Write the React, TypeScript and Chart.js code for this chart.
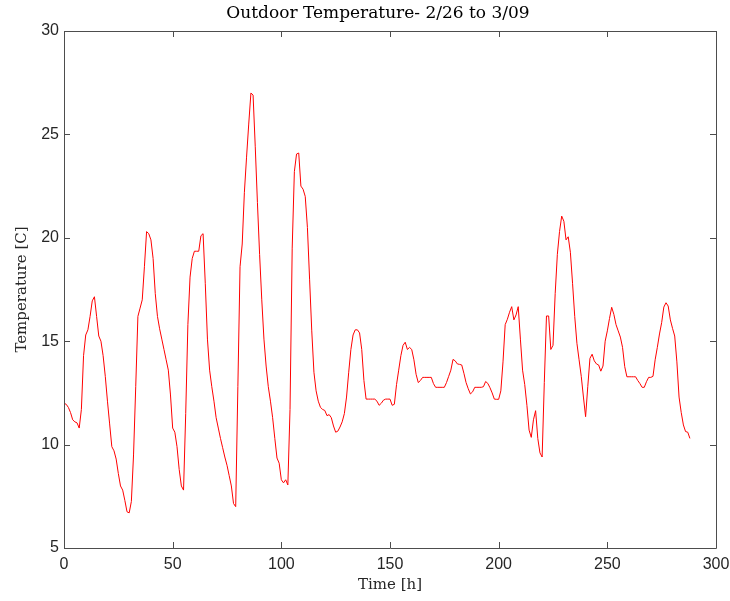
import React, { useEffect, useRef } from "react";
import { Chart, registerables } from "chart.js";

Chart.register(...registerables);

const TITLE = "Outdoor Temperature- 2/26 to 3/09";
const X_LABEL = "Time [h]";
const Y_LABEL = "Temperature [C]";

// hours 0..288
const temperature: number[] = [
  12.0, 11.95, 11.8, 11.55, 11.2, 11.1, 11.05, 10.8, 11.7, 14.3,
  15.3, 15.55, 16.2, 16.95, 17.15, 16.2, 15.25, 15.0, 14.3, 13.3,
  12.1, 11.0, 9.9, 9.7, 9.3, 8.6, 8.0, 7.8, 7.3, 6.75,
  6.7, 7.25, 9.5, 12.8, 16.2, 16.6, 17.0, 18.6, 20.3, 20.2,
  19.9, 19.0, 17.3, 16.2, 15.6, 15.1, 14.6, 14.1, 13.6, 12.4,
  10.8, 10.6, 9.9, 8.8, 8.0, 7.8, 11.5, 15.8, 18.1, 19.0,
  19.35, 19.35, 19.35, 20.1, 20.2, 17.8, 15.1, 13.6, 12.8, 12.1,
  11.3, 10.8, 10.3, 9.85, 9.4, 9.0, 8.5, 8.0, 7.15, 7.0,
  12.8, 18.6, 19.7, 22.2, 23.9, 25.5, 27.0, 26.9, 24.4, 21.7,
  19.2, 17.0, 15.1, 13.8, 12.8, 12.1, 11.3, 10.3, 9.35, 9.1,
  8.3, 8.15, 8.3, 8.05, 11.7, 19.5, 23.2, 24.05, 24.1, 22.5,
  22.35, 22.0, 20.5, 18.0, 15.5, 13.5, 12.6, 12.1, 11.8, 11.7,
  11.65, 11.4, 11.45, 11.3, 10.9, 10.6, 10.65, 10.85, 11.1, 11.5,
  12.3, 13.5, 14.6, 15.3, 15.55, 15.55, 15.4, 14.6, 13.1, 12.2,
  12.2, 12.2, 12.2, 12.2, 12.1, 11.9, 12.0, 12.15, 12.2, 12.2,
  12.2, 11.9, 11.95, 12.9, 13.6, 14.3, 14.8, 14.95, 14.6, 14.7,
  14.6, 14.1, 13.4, 13.0, 13.1, 13.25, 13.25, 13.25, 13.25, 13.25,
  12.95, 12.77, 12.77, 12.77, 12.77, 12.77, 13.0, 13.3, 13.6, 14.12,
  14.05, 13.9, 13.88, 13.85, 13.45, 13.0, 12.7, 12.45, 12.55, 12.77,
  12.77, 12.77, 12.77, 12.8, 13.05, 12.96, 12.75, 12.5, 12.2, 12.19,
  12.19, 12.6, 14.0, 15.8, 16.06, 16.4, 16.67, 16.03, 16.27, 16.67,
  15.1, 13.6, 12.9, 11.9, 10.7, 10.35, 11.2, 11.64, 10.3, 9.6,
  9.4, 13.0, 16.22, 16.22, 14.6, 14.8, 17.3, 19.2, 20.3, 21.05,
  20.8, 19.9, 20.05, 19.3, 17.8, 16.2, 14.9, 14.1, 13.3, 12.3,
  11.35, 12.8, 14.17, 14.37, 14.05, 13.9, 13.85, 13.55, 13.8, 15.0,
  15.5, 16.1, 16.64, 16.3, 15.8, 15.5, 15.2, 14.7, 13.77, 13.28,
  13.28, 13.28, 13.28, 13.28, 13.1, 12.95, 12.77, 12.77, 13.04, 13.25,
  13.25, 13.3, 14.1, 14.7, 15.35, 15.9, 16.65, 16.86, 16.7, 16.03,
  15.62, 15.25, 14.0, 12.3, 11.55, 10.95, 10.63, 10.6, 10.3,
];
const hours: number[] = temperature.map((_, i) => i);

const X_MIN = 0;
const X_MAX = 300;
const X_STEP = 50;
const Y_MIN = 5;
const Y_MAX = 30;
const Y_STEP = 5;

const AXIS_COLOR = "#262626";
const BOX_COLOR = "#4d4d4d";
const SERIF = "'DejaVu Serif', serif";
const SANS = "'Liberation Sans', Arial, sans-serif";

const boxPlugin = {
  id: "matlabBox",
  afterDraw(chart: any) {
    const { ctx, chartArea } = chart;
    const { left, right, top, bottom } = chartArea;
    const xs = chart.scales.x;
    const ys = chart.scales.y;
    const tl = 6;
    ctx.save();
    ctx.strokeStyle = BOX_COLOR;
    ctx.lineWidth = 1;
    ctx.beginPath();
    ctx.rect(Math.round(left) + 0.5, Math.round(top) + 0.5, Math.round(right - left), Math.round(bottom - top));
    ctx.stroke();
    ctx.beginPath();
    xs.ticks.forEach((t: any) => {
      const px = Math.round(xs.getPixelForValue(t.value)) + 0.5;
      ctx.moveTo(px, bottom);
      ctx.lineTo(px, bottom - tl);
      ctx.moveTo(px, top);
      ctx.lineTo(px, top + tl);
    });
    ys.ticks.forEach((t: any) => {
      const py = Math.round(ys.getPixelForValue(t.value)) + 0.5;
      ctx.moveTo(left, py);
      ctx.lineTo(left + tl, py);
      ctx.moveTo(right, py);
      ctx.lineTo(right - tl, py);
    });
    ctx.stroke();
    // title
    ctx.fillStyle = "#000";
    ctx.font = `17px ${SERIF}`;
    ctx.textAlign = "center";
    ctx.textBaseline = "middle";
    ctx.fillText(TITLE, (left + right) / 2 - 12, 14);
    ctx.restore();
  },
};

export default function App() {
  const ref = useRef<HTMLCanvasElement | null>(null);
  useEffect(() => {
    if (!ref.current) return;
    const chart = new Chart(ref.current, {
      type: "line",
      data: {
        labels: hours,
        datasets: [
          {
            data: hours.map((h, i) => ({ x: h, y: temperature[i] })),
            borderColor: "rgb(255,0,0)",
            borderWidth: 1,
            pointRadius: 0,
            tension: 0,
            fill: false,
          },
        ],
      },
      options: {
        animation: false,
        responsive: false,
        devicePixelRatio: 1,
        layout: { padding: { top: 31, right: 14, left: 0, bottom: 0 } },
        plugins: {
          legend: { display: false },
          title: { display: false },
          tooltip: { enabled: false },
        },
        scales: {
          x: {
            type: "linear",
            min: X_MIN,
            max: X_MAX,
            grid: { display: false, drawTicks: false },
            border: { display: false },
            ticks: {
              stepSize: X_STEP,
              padding: 7,
              color: AXIS_COLOR,
              font: { family: SANS, size: 16 },
              maxRotation: 0,
            },
            title: {
              display: true,
              text: X_LABEL,
              color: AXIS_COLOR,
              font: { family: SERIF, size: 15 },
              padding: { top: 0, bottom: 7 },
            },
            afterFit(scale: any) {
              scale.height = 53;
              scale.paddingLeft = 0;
              scale.paddingRight = 0;
            },
          },
          y: {
            type: "linear",
            min: Y_MIN,
            max: Y_MAX,
            grid: { display: false, drawTicks: false },
            border: { display: false },
            ticks: {
              stepSize: Y_STEP,
              padding: 5,
              color: AXIS_COLOR,
              font: { family: SANS, size: 16 },
            },
            title: {
              display: true,
              text: Y_LABEL,
              color: AXIS_COLOR,
              font: { family: SERIF, size: 15 },
              padding: { top: 13, bottom: 0 },
            },
            afterFit(scale: any) {
              scale.width = 64;
              scale.paddingTop = 0;
              scale.paddingBottom = 0;
            },
          },
        },
      },
      plugins: [boxPlugin],
    });
    return () => chart.destroy();
  }, []);
  return (
    <div style={{ position: "absolute", left: 0, top: 0, width: 730, height: 601, background: "#fff" }}>
      <canvas ref={ref} width={730} height={601} />
    </div>
  );
}
